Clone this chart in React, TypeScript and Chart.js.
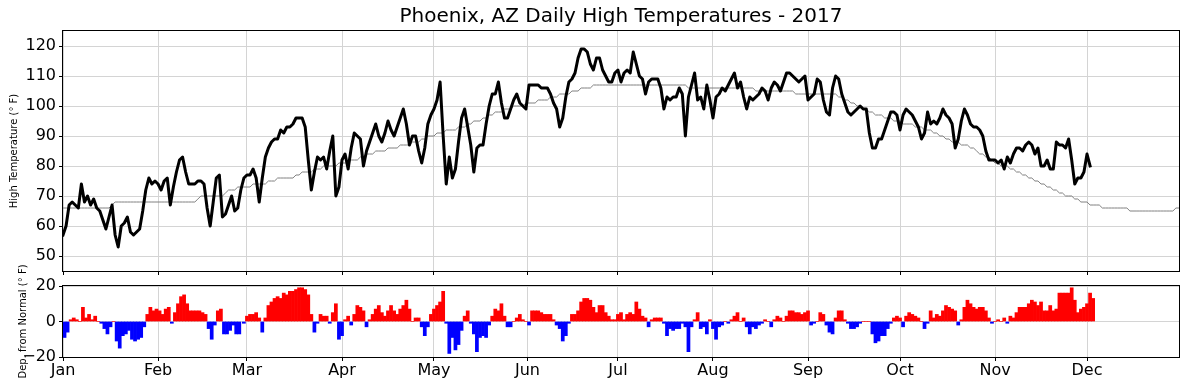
import React, { useEffect, useRef } from 'react';
import { Chart, registerables } from 'chart.js';

Chart.register(...registerables);

const TITLE = 'Phoenix, AZ Daily High Temperatures - 2017';
const TOP_Y_LABEL = 'High Temperature (° F)';
const BOTTOM_Y_LABEL = 'Dep. from Normal (° F)';

const monthLabels = ['Jan', 'Feb', 'Mar', 'Apr', 'May', 'Jun', 'Jul', 'Aug', 'Sep', 'Oct', 'Nov', 'Dec'];
const monthTickDays = [0, 31, 60, 91, 121, 151.5, 181, 212, 243, 273, 304, 334];
const tempTicks = [50, 60, 70, 80, 90, 100, 110, 120];
const depTicks = [-20, 0, 20];

// Daily high temperatures, day 0 = Jan 1 (through Dec 2)
const highs = [
  57, 60, 67, 68, 67, 66, 74, 68, 70, 67, 69, 66, 65, 62, 59, 63, 67, 57, 53, 60,
  61, 63, 58, 57, 58, 59, 65, 72, 76, 74, 75, 74, 72, 75, 76, 67, 73, 78, 82, 83,
  78, 74, 74, 74, 75, 75, 74, 66, 60, 68, 76, 77, 63, 64, 67, 70, 65, 66, 72, 76,
  77, 77, 79, 76, 68, 76, 83, 86, 88, 89, 89, 92, 91, 93, 93, 94, 96, 96, 96, 93,
  82, 72, 78, 83, 82, 83, 79, 85, 90, 70, 73, 82, 84, 79, 86, 91, 90, 89, 80, 85,
  88, 91, 94, 90, 88, 91, 95, 92, 90, 93, 96, 99, 94, 87, 90, 90, 85, 81, 86, 94,
  97, 99, 102, 108, 90, 74, 83, 76, 79, 88, 96, 99, 93, 87, 78, 86, 87, 87, 94, 100,
  104, 104, 108, 101, 96, 96, 99, 102, 104, 101, 100, 99, 107, 107, 107, 107, 106, 106, 106, 104,
  101, 99, 93, 96, 103, 108, 109, 111, 116, 119, 119, 118, 114, 112, 116, 116, 112, 110, 108, 108,
  111, 112, 108, 111, 112, 111, 118, 114, 110, 109, 104, 108, 109, 109, 109, 106, 99, 103, 102, 103,
  103, 106, 104, 90, 103, 107, 111, 102, 103, 99, 107, 102, 96, 103, 104, 106, 105, 107, 109, 111,
  106, 108, 103, 99, 103, 102, 103, 104, 106, 105, 102, 106, 108, 107, 105, 108, 111, 111, 110, 109,
  108, 109, 110, 102, 103, 104, 109, 108, 102, 98, 97, 106, 110, 109, 104, 101, 98, 97, 98, 99,
  100, 99, 99, 91, 86, 86, 89, 89, 92, 95, 98, 98, 97, 92, 97, 99, 98, 97, 95, 93,
  89, 91, 98, 94, 95, 94, 96, 99, 97, 96, 94, 86, 89, 95, 99, 97, 94, 93, 93, 92,
  90, 85, 82, 82, 82, 81, 82, 79, 83, 81, 84, 86, 86, 85, 87, 88, 87, 84, 86, 80,
  80, 82, 79, 79, 88, 87, 87, 86, 89, 82, 74, 76, 76, 78, 84, 80,
];

// Normal daily highs, Jan 1 .. Dec 31
const normals = [
  66, 66, 66, 66, 66, 66, 66, 66, 66, 66, 66, 66, 66, 66, 66, 66, 67, 68, 68, 68,
  68, 68, 68, 68, 68, 68, 68, 68, 68, 68, 68, 68, 68, 68, 68, 68, 68, 68, 68, 68,
  68, 68, 68, 68, 69, 70, 70, 70, 70, 70, 70, 70, 70, 71, 72, 72, 72, 73, 73, 73,
  73, 73, 74, 74, 74, 74, 74, 75, 75, 75, 76, 76, 76, 76, 76, 76, 77, 77, 78, 78,
  78, 78, 79, 79, 79, 80, 80, 80, 80, 80, 81, 81, 81, 81, 82, 82, 82, 83, 83, 84,
  84, 84, 85, 85, 85, 85, 86, 86, 86, 86, 87, 87, 87, 87, 88, 88, 88, 89, 89, 90,
  90, 90, 91, 91, 91, 92, 92, 92, 92, 93, 93, 93, 94, 94, 95, 95, 95, 96, 96, 97,
  97, 98, 98, 98, 99, 99, 99, 100, 100, 100, 100, 101, 101, 101, 101, 102, 102, 102, 102, 103,
  103, 103, 104, 104, 104, 104, 105, 105, 105, 106, 106, 106, 106, 107, 107, 107, 107, 107, 107, 107,
  107, 107, 107, 107, 107, 107, 107, 107, 107, 107, 107, 107, 107, 107, 107, 107, 107, 107, 107, 107,
  107, 107, 107, 107, 106, 106, 106, 106, 106, 106, 106, 106, 106, 106, 106, 106, 106, 106, 106, 106,
  106, 106, 106, 106, 106, 106, 105, 105, 105, 105, 105, 105, 105, 105, 105, 105, 105, 105, 105, 104,
  104, 104, 104, 104, 104, 104, 104, 104, 104, 104, 104, 104, 104, 103, 103, 102, 102, 101, 101, 100,
  100, 99, 99, 98, 98, 97, 97, 97, 96, 96, 96, 95, 95, 95, 94, 94, 94, 94, 93, 93,
  93, 92, 92, 92, 91, 91, 90, 90, 89, 89, 88, 88, 88, 87, 87, 87, 86, 86, 85, 84,
  84, 83, 83, 82, 81, 81, 80, 80, 80, 79, 79, 78, 78, 77, 77, 76, 76, 75, 75, 74,
  74, 73, 73, 72, 72, 71, 71, 70, 70, 70, 69, 69, 68, 68, 68, 67, 67, 67, 67, 66,
  66, 66, 66, 66, 66, 66, 66, 66, 65, 65, 65, 65, 65, 65, 65, 65, 65, 65, 65, 65,
  65, 65, 65, 66, 66,
];

// In the source plot, departure bars from the end of February on sit one
// half-day further right than the temperature line.
const BAR_SHIFT_FROM_DAY = 58;

const FONT = "'DejaVu Sans', sans-serif";
const GRID = '#d4d4d4';

const framePlugin = {
  id: 'frame',
  afterDatasetsDraw(chart: any) {
    const { ctx, chartArea } = chart;
    const { left, top, right, bottom } = chartArea;
    ctx.save();
    ctx.strokeStyle = '#000';
    ctx.lineWidth = 1;
    ctx.strokeRect(Math.round(left) - 0.5, Math.round(top) - 0.5, Math.round(right - left) + 1, Math.round(bottom - top) + 1);
    ctx.restore();
  },
};

const monthCallback = (v: any) => {
  const i = monthTickDays.indexOf(Number(v));
  return i >= 0 ? monthLabels[i] : '';
};

const signed = (v: any) => (Number(v) < 0 ? '\u2212' + Math.abs(Number(v)) : String(v));

function xAxis(showLabels: boolean, height: number) {
  return {
    type: 'linear',
    min: 0,
    max: 364,
    offset: false,
    afterBuildTicks: (axis: any) => {
      axis.ticks = monthTickDays.map((v) => ({ value: v }));
    },
    afterFit: (axis: any) => {
      axis.height = height;
      axis.paddingLeft = 0;
      axis.paddingRight = 0;
    },
    ticks: {
      autoSkip: false,
      maxRotation: 0,
      minRotation: 0,
      color: '#000',
      font: { family: FONT, size: 16 },
      padding: 0,
      callback: showLabels ? monthCallback : () => '',
    },
    grid: { color: GRID, lineWidth: 1, offset: false, tickColor: '#000', tickLength: 4, tickWidth: 1 },
    border: { display: false },
  };
}

function yAxis(min: number, max: number, ticks: number[], title: string, titlePad: number) {
  return {
    min,
    max,
    afterBuildTicks: (axis: any) => {
      axis.ticks = ticks.map((v) => ({ value: v }));
    },
    afterFit: (axis: any) => {
      axis.width = 63;
      axis.paddingTop = 0;
      axis.paddingBottom = 0;
    },
    ticks: {
      color: '#000',
      font: { family: FONT, size: 16 },
      padding: 3,
      callback: signed,
    },
    grid: { color: GRID, lineWidth: 1, tickColor: '#000', tickLength: 4, tickWidth: 1 },
    border: { display: false },
    title: {
      display: true,
      text: title,
      color: '#000',
      font: { family: FONT, size: 10, lineHeight: 1.2 },
      padding: { top: titlePad, bottom: 0 },
    },
  };
}

export default function App() {
  const topRef = useRef<HTMLCanvasElement>(null);
  const botRef = useRef<HTMLCanvasElement>(null);

  useEffect(() => {
    const highPts = highs.map((v, i) => ({ x: i, y: v }));
    const normalPts = normals.map((v, i) => ({ x: i, y: v }));
    const deps = highs.map((v, i) => v - normals[i]);
    const depPts = deps.map((v, i) => ({ x: i >= BAR_SHIFT_FROM_DAY ? i + 1 : i + 0.5, y: v }));

    const top = new Chart(topRef.current as HTMLCanvasElement, {
      type: 'line',
      data: {
        datasets: [
          {
            label: 'High',
            data: highPts,
            borderColor: '#000',
            borderWidth: 3,
            pointRadius: 0,
            borderJoinStyle: 'round',
            borderCapStyle: 'square',
            tension: 0,
          },
          {
            label: 'Normal',
            data: normalPts,
            borderColor: '#808080',
            borderWidth: 1,
            pointRadius: 0,
            tension: 0,
          },
        ],
      },
      options: {
        responsive: false,
        animation: false,
        devicePixelRatio: 1,
        parsing: false,
        layout: { padding: { top: 0, right: 10, left: 0, bottom: 0 } },
        plugins: {
          legend: { display: false },
          tooltip: { enabled: false },
          title: {
            display: true,
            text: TITLE,
            fullSize: false,
            color: '#000',
            font: { family: FONT, size: 20, weight: 'normal', lineHeight: 1.2 },
            padding: { top: 5, bottom: 2 },
          },
        },
        scales: {
          x: xAxis(false, 9),
          y: yAxis(45, 125, tempTicks, TOP_Y_LABEL, 8),
        },
      } as any,
      plugins: [framePlugin],
    } as any);

    const bottom = new Chart(botRef.current as HTMLCanvasElement, {
      type: 'bar',
      data: {
        datasets: [
          {
            label: 'Departure',
            data: depPts,
            backgroundColor: deps.map((v) => (v >= 0 ? '#ff0000' : '#0000ff')),
            borderWidth: 0,
            barPercentage: 1,
            categoryPercentage: 1,
          },
        ],
      },
      options: {
        responsive: false,
        animation: false,
        devicePixelRatio: 1,
        layout: { padding: { top: 36, right: 10, left: 0, bottom: 0 } },
        plugins: {
          legend: { display: false },
          tooltip: { enabled: false },
        },
        scales: {
          x: xAxis(true, 29),
          y: yAxis(-20, 20, depTicks, BOTTOM_Y_LABEL, 17),
        },
      } as any,
      plugins: [framePlugin],
    } as any);

    return () => {
      top.destroy();
      bottom.destroy();
    };
  }, []);

  return (
    <div style={{ position: 'absolute', left: 0, top: 0, width: 1189, height: 386, background: '#fff' }}>
      <canvas
        ref={topRef}
        width={1189}
        height={280}
        style={{ position: 'absolute', left: 0, top: 0, width: 1189, height: 280 }}
      />
      <canvas
        ref={botRef}
        width={1189}
        height={136}
        style={{ position: 'absolute', left: 0, top: 250, width: 1189, height: 136 }}
      />
    </div>
  );
}
